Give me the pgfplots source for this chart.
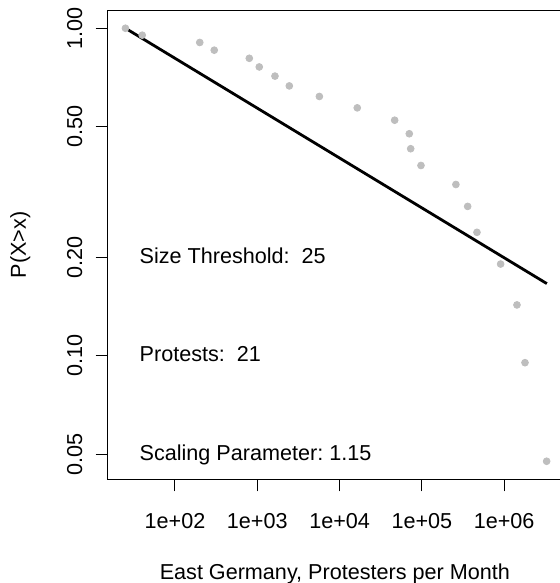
\documentclass[border=0pt]{standalone}
\usepackage{pgfplots}
\pgfplotsset{compat=1.18}
\usepackage{fontspec}
\setmainfont{Liberation Sans}
\newcommand\fs{\fontsize{10.8}{13}\selectfont}
\definecolor{ptgray}{RGB}{190,190,190}

\begin{document}
\frenchspacing
\begin{tikzpicture}
  \begin{axis}[
      name=ax,
      xmode=log, ymode=log,
      scale only axis,
      width=226.85pt, height=234pt,
      xmin=15.35, xmax=5.0e6,
      ymin=0.04201, ymax=1.129,
      axis line style={line width=0.5pt},
      tick style={line width=0.5pt, black},
      tick align=outside,
      major tick length=6.25pt,
      xtick pos=bottom, ytick pos=left,
      xminorticks=false, yminorticks=false,
      xtick={1e2,1e3,1e4,1e5,1e6},
      xticklabels={1e+02,1e+03,1e+04,1e+05,1e+06},
      ytick={0.05,0.1,0.2,0.5,1},
      yticklabels={0.05,0.10,0.20,0.50,1.00},
      tick label style={font=\fs},
      label style={font=\fs},
      xticklabel style={anchor=base},
      xticklabel shift=18.5pt,
      yticklabel style={rotate=90, anchor=base},
      yticklabel shift=6.75pt,
      xlabel={East Germany, Protesters per Month},
      ylabel={P(X>x)},
      xlabel style={at={([yshift=-50pt]axis description cs:0.5,0)}, anchor=base},
      ylabel style={at={([xshift=-41pt]axis description cs:0,0.5)}, anchor=base},
      clip=false,
    ]
    % empirical CCDF, 21 protests
    \addplot[only marks, mark=*, mark size=1.7pt, color=ptgray] coordinates {
      (25,1.0) (40,0.9524) (200,0.9048) (300,0.8571) (800,0.8095)
      (1057,0.7619) (1640,0.7143) (2450,0.6667) (5680,0.6190)
      (16400,0.5714) (46700,0.5238) (70300,0.4762) (73100,0.4286)
      (97500,0.3810) (259000,0.3333) (360000,0.2857) (467000,0.2381)
      (905000,0.1905) (1430000,0.1429) (1790000,0.0952) (3280000,0.0476)
    };
    % fitted power law
    \addplot[black, line width=1.4pt] coordinates {
      (25,1.0) (3300000,0.166)
    };
    \node[anchor=base west, inner sep=0pt, font=\fs] at ([yshift=-3pt]axis cs:36.8,0.2) {Size Threshold:~ 25};
    \node[anchor=base west, inner sep=0pt, font=\fs] at ([yshift=-3pt]axis cs:36.8,0.1) {Protests:~ 21};
    \node[anchor=base west, inner sep=0pt, font=\fs] at ([yshift=-3pt]axis cs:36.8,0.05) {Scaling Parameter: 1.15};
  \end{axis}
  \pgfresetboundingbox
  \useasboundingbox ([xshift=-54pt, yshift=-52pt]ax.south west) rectangle ([xshift=226pt, yshift=239.5pt]ax.south west);
\end{tikzpicture}
\end{document}
